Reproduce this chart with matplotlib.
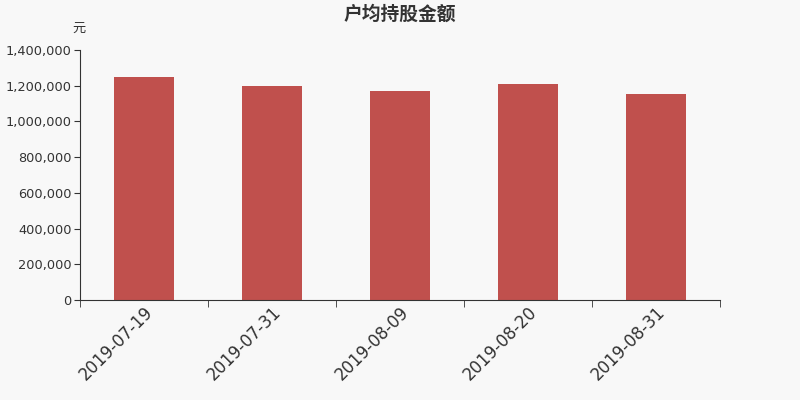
import matplotlib
matplotlib.use("Agg")
import matplotlib.pyplot as plt
import matplotlib.ticker as mt
import numpy as np

plt.rcParams['font.family'] = ['DejaVu Sans', 'Noto Sans CJK SC']

dates = ["2019-07-19", "2019-07-31", "2019-08-09", "2019-08-20", "2019-08-31"]
amounts = [1247000, 1200000, 1168000, 1209000, 1155000]

title = "户均持股金额"
unit = "元"
bar_color = "#c0504d"
bg = "#f8f8f8"
ink = "#333333"
cjk = ['Noto Sans CJK SC', 'DejaVu Sans']

fig = plt.figure(figsize=(8, 4), dpi=100, facecolor=bg)
ax = fig.add_axes([0.1, 0.25, 0.8, 0.625], facecolor=bg)

x = np.arange(len(dates))
ax.bar(x, amounts, width=0.47, color=bar_color)

ax.set_xlim(-0.5, len(dates) - 0.5)
ax.set_ylim(0, 1400000)
ax.yaxis.set_major_locator(mt.MultipleLocator(200000))
ax.yaxis.set_major_formatter(mt.FuncFormatter(lambda v, p: f"{int(v):,}"))

ax.set_xticks(x)
ax.set_xticklabels(dates, rotation=45, ha="right", rotation_mode="anchor",
                   fontsize=12, color=ink)
ax.set_xticks(np.arange(-0.5, len(dates)), minor=True)
ax.tick_params(axis="x", which="major", length=0, pad=2.5)
ax.tick_params(axis="x", which="minor", length=5, color=ink)
ax.tick_params(axis="y", length=4, color=ink, labelsize=9.3, labelcolor=ink, pad=2)

for side in ("top", "right"):
    ax.spines[side].set_visible(False)
for side in ("left", "bottom"):
    ax.spines[side].set_color(ink)

fig.text(0.5, 0.965, title, ha="center", va="center", fontsize=13.5,
         fontweight="bold", color=ink, family=cjk)
fig.text(0.107, 0.93, unit, ha="right", va="center", fontsize=9.5, color=ink,
         family=cjk)

fig.savefig("out.png", dpi=100, facecolor=bg)
